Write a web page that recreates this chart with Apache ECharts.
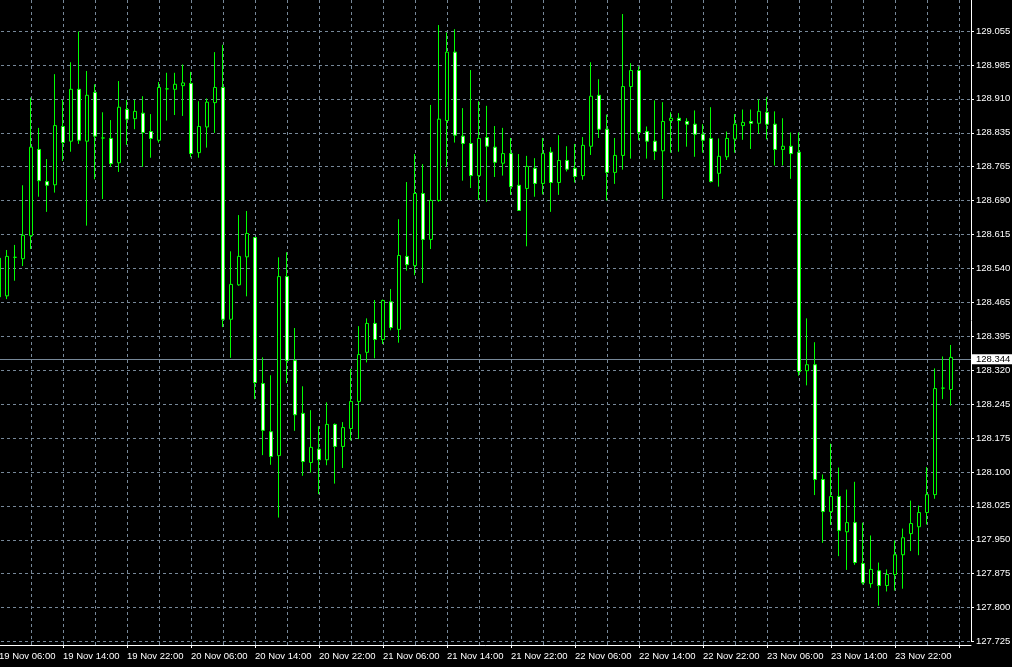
<!DOCTYPE html>
<html>
<head>
<meta charset="utf-8">
<style>
html,body{margin:0;padding:0;background:#000;}
#c{width:1012px;height:667px;}
</style>
<script src="https://cdn.jsdelivr.net/npm/echarts@6.0.0/dist/echarts.min.js"></script>
</head>
<body>
<div id="c"></div>
<script>
// ---- data (hourly bars, 19 Nov 06:00 onwards) ----
const startDay = 19, startHour = 6, monthName = 'Nov', barCount = 120, emptyBars = 2;
const open = [128.560,128.478,128.562,128.559,128.609,128.797,128.727,128.720,128.847,128.815,
128.928,128.815,128.921,128.822,128.821,128.768,128.884,128.864,128.876,128.836,
128.817,128.929,128.928,128.936,128.941,128.790,128.846,128.899,128.932,128.427,
128.502,128.563,128.605,128.287,128.182,128.130,128.520,128.337,128.222,128.115,
128.144,128.121,128.198,128.150,128.189,128.248,128.355,128.418,128.383,128.465,
128.405,128.564,128.544,128.701,128.601,128.686,128.860,129.009,128.826,128.810,
128.740,128.823,128.802,128.767,128.788,128.719,128.712,128.756,128.723,128.791,
128.725,128.773,128.756,128.740,128.804,128.915,128.841,128.747,128.784,128.934,
128.969,128.836,128.815,128.794,128.860,128.865,128.858,128.852,128.830,128.821,
128.745,128.781,128.820,128.849,128.858,128.854,128.878,128.852,128.797,128.804,
128.791,128.315,128.328,128.078,128.008,128.041,127.964,127.984,127.895,127.851,
127.879,127.847,127.871,127.914,127.960,127.975,128.006,128.045,128.277,128.274];
const close = [128.476,128.564,128.562,128.610,128.802,128.729,128.719,128.849,128.812,128.928,
128.817,128.915,128.826,128.822,128.766,128.889,128.863,128.880,128.834,128.821,
128.932,128.929,128.939,128.942,128.788,128.847,128.900,128.932,128.427,128.503,
128.564,128.614,128.289,128.185,128.128,128.520,128.337,128.219,128.117,128.148,
128.121,128.198,128.150,128.191,128.248,128.350,128.418,128.383,128.468,128.409,
128.566,128.546,128.701,128.601,128.686,128.863,129.009,128.828,128.810,128.740,
128.821,128.804,128.769,128.788,128.716,128.664,128.760,128.723,128.788,128.725,
128.773,128.754,128.738,128.806,128.913,128.841,128.747,128.784,128.934,128.969,
128.834,128.815,128.793,128.858,128.865,128.860,128.852,128.830,128.817,128.727,
128.782,128.821,128.852,128.856,128.854,128.880,128.852,128.797,128.804,128.788,
128.313,128.328,128.078,128.008,128.041,127.967,127.984,127.897,127.853,127.882,
127.847,127.871,127.914,127.951,127.982,128.006,128.045,128.276,128.277,128.344];
const low = [128.469,128.471,128.511,128.543,128.580,128.694,128.661,128.703,128.772,128.792,
128.809,128.631,128.732,128.689,128.759,128.748,128.807,128.841,128.759,128.779,
128.812,128.860,128.872,128.870,128.780,128.779,128.801,128.833,128.410,128.343,
128.500,128.477,128.253,128.131,128.110,127.995,128.288,128.184,128.086,128.093,
128.046,128.109,128.069,128.103,128.163,128.166,128.333,128.342,128.373,128.403,
128.376,128.533,128.523,128.506,128.580,128.683,128.759,128.812,128.729,128.713,
128.687,128.683,128.737,128.740,128.698,128.664,128.586,128.694,128.699,128.661,
128.698,128.749,128.725,128.731,128.785,128.822,128.686,128.722,128.753,128.777,
128.817,128.777,128.774,128.689,128.790,128.792,128.803,128.781,128.790,128.725,
128.716,128.774,128.790,128.818,128.798,128.831,128.819,128.762,128.762,128.733,
128.304,128.283,128.044,127.940,127.979,127.911,127.881,127.892,127.849,127.842,
127.803,127.834,127.836,127.840,127.922,127.913,127.980,128.036,128.253,128.239];
const high = [128.578,128.578,128.589,128.719,128.910,128.844,128.776,128.961,128.905,128.987,
129.054,128.968,128.939,128.878,128.861,128.946,128.905,128.905,128.913,128.874,
128.944,128.964,128.964,128.982,128.966,128.902,128.908,129.009,129.025,128.575,
128.654,128.663,128.605,128.344,128.305,128.562,128.573,128.408,128.281,128.229,
128.194,128.246,128.200,128.203,128.319,128.412,128.429,128.469,128.470,128.493,
128.645,128.726,128.787,128.765,128.894,129.068,129.052,129.059,128.887,128.970,
128.902,128.892,128.848,128.844,128.822,128.787,128.783,128.778,128.822,128.802,
128.828,128.804,128.809,128.824,128.987,128.950,128.873,128.822,129.092,128.985,
128.978,128.847,128.904,128.900,128.878,128.876,128.865,128.882,128.852,128.889,
128.821,128.836,128.874,128.884,128.884,128.906,128.911,128.880,128.865,128.834,
128.834,128.429,128.377,128.089,128.156,128.104,128.056,128.073,127.984,127.956,
127.897,127.882,127.945,127.971,128.032,128.021,128.105,128.320,128.346,128.371];
const currentPrice = 128.344;
const yTickLabels = ['127.725','127.800','127.875','127.950','128.025','128.100','128.175','128.245',
'128.320','128.395','128.465','128.540','128.615','128.690','128.765','128.835','128.910','128.985',
'129.055','129.130'];
const yMin = 127.725, yStep = 0.07389;

// category labels (bar times)
const categories = [];
for (let i = 0; i < barCount; i++) {
  const h = startHour + i;
  const d = startDay + Math.floor(h / 24);
  const hh = h % 24;
  categories.push(d + ' ' + monthName + ' ' + (hh < 10 ? '0' : '') + hh + ':00');
}
for (let i = 0; i < emptyBars; i++) categories.push('');

const candleData = open.map((o, i) => [o, close[i], low[i], high[i]]);

const FONT = 'Tahoma, "Liberation Sans", Arial, sans-serif';
const GRID = '#778899';
const every8 = (idx) => idx % 8 === 0;

const chart = echarts.init(document.getElementById('c'), null, {renderer: 'canvas'});
chart.setOption({
  backgroundColor: '#000',
  animation: false,
  grid: [
    {left: -5, right: 41, top: -2.9, bottom: 25.5, outerBoundsMode: 'none', containLabel: false},
    {left: -1, right: 53, top: 0, bottom: 22, outerBoundsMode: 'none', containLabel: false}
  ],
  xAxis: [
    {
      type: 'category', gridIndex: 0, data: categories, boundaryGap: true, offset: 3.5,
      axisLine: {show: true, lineStyle: {color: '#fff', width: 1}},
      axisTick: {show: true, interval: every8, alignWithLabel: true, length: 3, lineStyle: {color: '#fff'}},
      axisLabel: {interval: every8, align: 'left', color: '#fff', fontFamily: FONT, fontSize: 9.5, margin: 6, hideOverlap: false},
      splitLine: {show: false}
    },
    {
      type: 'value', gridIndex: 1, min: 0, max: 120, interval: 4,
      axisLine: {show: false}, axisTick: {show: false}, axisLabel: {show: false},
      splitLine: {show: true, lineStyle: {color: GRID, type: [3, 3], width: 1}}
    }
  ],
  yAxis: [
    {
      type: 'value', gridIndex: 0, position: 'right',
      min: yMin, max: yMin + 19 * yStep, interval: yStep,
      axisLine: {show: true, lineStyle: {color: '#fff', width: 1}},
      axisTick: {show: true, length: 3, lineStyle: {color: '#fff'}},
      axisLabel: {
        color: '#fff', fontFamily: FONT, fontSize: 9.5, margin: 5,
        formatter: function (v) {
          const idx = Math.round((v - yMin) / yStep);
          return yTickLabels[idx] !== undefined ? yTickLabels[idx] : '';
        }
      },
      splitLine: {show: true, lineStyle: {color: GRID, type: [3, 3], width: 1}}
    },
    {type: 'value', gridIndex: 1, min: 0, max: 1, show: false}
  ],
  series: [{
    type: 'candlestick',
    xAxisIndex: 0, yAxisIndex: 0,
    data: candleData,
    barWidth: 4,
    itemStyle: {
      color: '#000', color0: '#fff',
      borderColor: '#00ff00', borderColor0: '#00ff00', borderColorDoji: '#00ff00',
      borderWidth: 1
    },
    markLine: {
      silent: true, symbol: 'none', z: 1, animation: false,
      lineStyle: {color: GRID, type: 'solid', width: 1},
      label: {
        show: true, position: 'end', distance: 1,
        formatter: currentPrice.toFixed(3),
        backgroundColor: '#fff', color: '#000', fontFamily: FONT, fontSize: 9.5,
        lineHeight: 10, padding: [0, 2, 0, 4]
      },
      data: [{yAxis: currentPrice}]
    }
  }]
});
</script>
</body>
</html>
